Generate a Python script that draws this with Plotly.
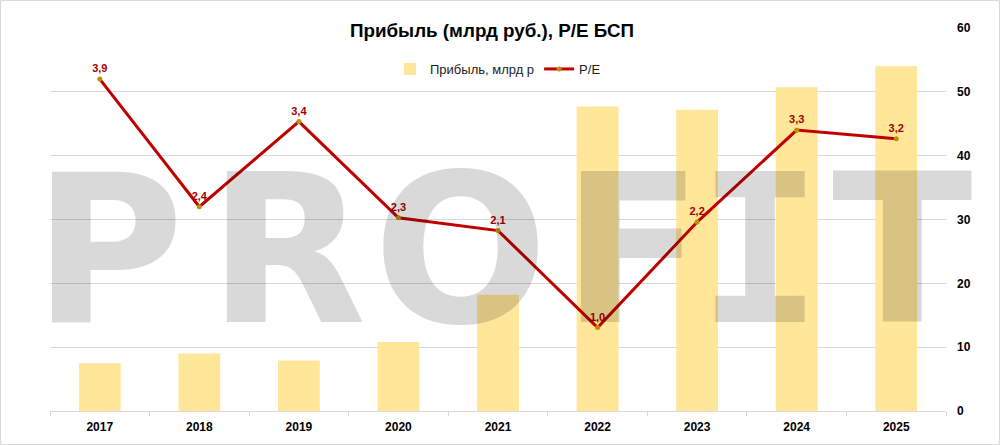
import plotly.graph_objects as go

years = ["2017", "2018", "2019", "2020", "2021", "2022", "2023", "2024", "2025"]
profit = [7.5, 9.0, 7.9, 10.8, 18.2, 47.7, 47.2, 50.7, 54.0]
pe = [3.9, 2.4, 3.4, 2.27, 2.12, 0.98, 2.22, 3.3, 3.2]
pe_labels = [f"{v:.1f}".replace(".", ",") for v in pe]
right_ticks = [0, 10, 20, 30, 40, 50, 60]

title_text = "Прибыль (млрд руб.), P/E БСП"
bar_name = "Прибыль, млрд р"
line_name = "P/E"

W, H = 1000, 445
ML, MR, MT, MB = 50, 54, 28, 34
PW = W - ML - MR
PH = H - MT - MB


def px_x(p):
    return (p - ML) / PW


def px_y(p):
    return (H - MB - p) / PH


fig = go.Figure()
fig.add_trace(go.Bar(
    x=years, y=profit, name=bar_name, marker=dict(color="#FFE699", line=dict(width=0)),
    yaxis="y",
))
fig.add_trace(go.Scatter(
    x=years, y=pe, name=line_name, mode="lines+markers+text",
    line=dict(color="#C00000", width=3),
    marker=dict(color="#BF9000", size=5),
    text=pe_labels, textposition="top center",
    textfont=dict(family="Liberation Sans", size=11, color="#A50000", weight="bold"),
    yaxis="y2",
))

# watermark letters
wm_font = "DejaVu Sans"
letters = [("P", 108, wm_font), ("R", 287, wm_font), ("O", 460, wm_font),
           ("F", 632, wm_font), ("I", 760, "DejaVu Sans Mono"), ("T", 902, wm_font)]
annotations = []
for ch, cx, fam in letters:
    annotations.append(dict(
        text=ch, xref="paper", yref="paper", x=px_x(cx), y=px_y(251), xanchor="center",
        yanchor="middle", showarrow=False,
        font=dict(family=fam, size=206, color="rgba(0,0,0,0.15)", weight="bold"),
    ))

annotations.append(dict(
    text=title_text, xref="paper", yref="paper", x=px_x(492), y=px_y(30),
    xanchor="center", yanchor="middle", showarrow=False, bgcolor="white",
    font=dict(family="Liberation Sans", size=18.8, color="black", weight="bold"),
))

fig.update_layout(
    width=W, height=H,
    margin=dict(l=ML, r=MR, t=MT, b=MB),
    paper_bgcolor="white", plot_bgcolor="white",
    bargap=0.58,
    showlegend=True,
    legend=dict(orientation="h", x=0.5, xanchor="center", y=px_y(69), yanchor="middle",
                font=dict(family="Liberation Sans", size=13, color="#222"),
                bgcolor="rgba(0,0,0,0)"),
    xaxis=dict(type="category", showgrid=False, showline=True, linecolor="#D9D9D9",
               ticks="outside", tickson="boundaries", ticklen=4, tickcolor="#D9D9D9",
               ticklabelstandoff=5,
               tickfont=dict(family="Liberation Sans", size=12, color="black", weight="bold"),
               fixedrange=True),
    yaxis=dict(side="right", range=[0, 60], tickvals=right_ticks, showgrid=True,
               gridcolor="#D9D9D9", gridwidth=1, zeroline=False, showline=False,
               ticklabelstandoff=10,
               tickfont=dict(family="Liberation Sans", size=12, color="black", weight="bold")),
    yaxis2=dict(overlaying="y", side="left", range=[0, 4.5], visible=False),
    annotations=annotations,
    shapes=[dict(type="rect", xref="paper", yref="paper",
                 x0=px_x(0.5), x1=px_x(999.5), y0=px_y(444.5), y1=px_y(0.5),
                 line=dict(color="#D9D9D9", width=1), layer="below")],
)

fig.write_html("out.html")
